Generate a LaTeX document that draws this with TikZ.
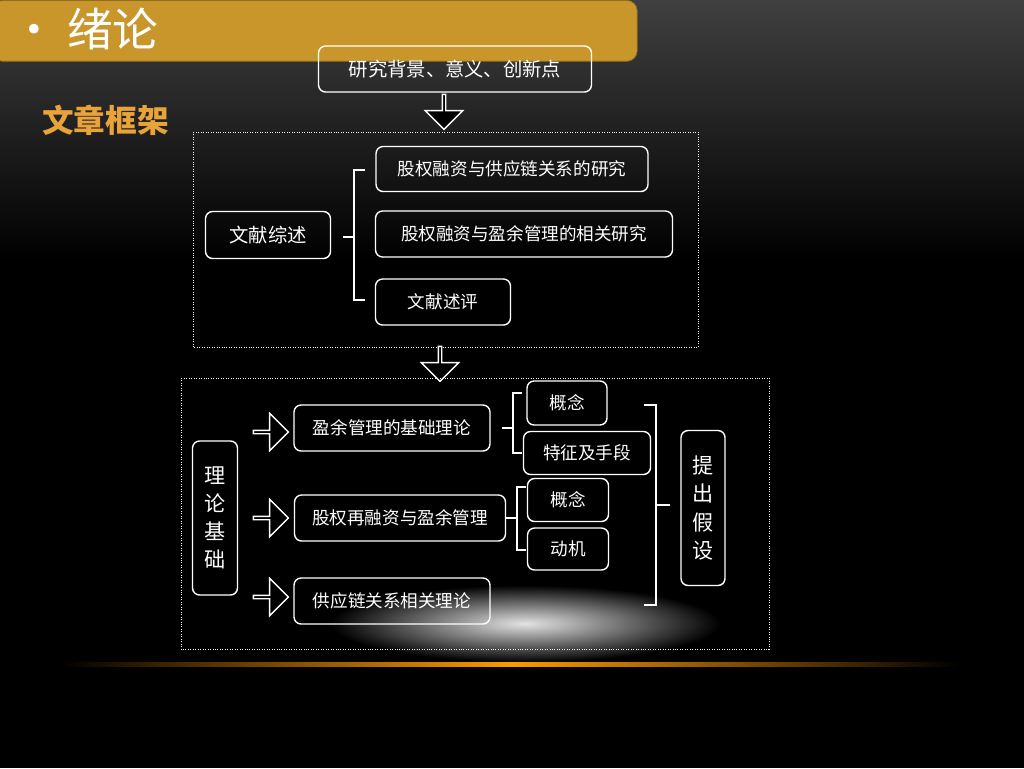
\documentclass[tikz,border=0pt]{standalone}
\usepackage{fontspec}
\setmainfont{Noto Sans CJK SC}
\usetikzlibrary{shapes.arrows,calc}
\definecolor{gold}{HTML}{C8962A}
\definecolor{ttl}{HTML}{E8A33A}
\begin{document}
\begin{tikzpicture}[x=0.02cm,y=-0.02cm,
 bx/.style={draw=white,rounded corners=4pt,thick,text=white,font=\fontsize{10}{12}\selectfont,inner sep=0pt},
 harr/.style={draw=white,fill=black,thick,single arrow,single arrow head extend=4pt,minimum height=0.7cm,minimum width=0.75cm,inner sep=0pt},
 dbox/.style={draw=white,densely dotted}]
\useasboundingbox (0,0) rectangle (1024,768);
\fill[black] (0,0) rectangle (1024,768);
\fill[top color=black!75!white,bottom color=black] (0,0) rectangle (1024,260);
\fill[black] (0,260) rectangle (1024,768);
\shade[inner color=gray!22,outer color=black] (330,585) rectangle (720,662);
\shade[left color=black,right color=orange!80!yellow] (60,662) rectangle (512,666);
\shade[right color=black,left color=orange!80!yellow] (512,662) rectangle (960,666);
\node[draw=gold!70!black,fill=gold,rounded corners=6pt,minimum width=12.9cm,minimum height=1.22cm,anchor=north west] (bar) at (-8,0) {};
\node[text=white,font=\fontsize{26}{30}\selectfont,anchor=west] (t) at (5,29) {• 绪论};
\node[text=ttl,font=\fontsize{18}{20}\selectfont\bfseries,anchor=west] (ft) at (36,120) {文章框架};
\node[bx,minimum width=5.46cm,minimum height=0.92cm,font=\fontsize{11}{12}\selectfont] (bg) at (455,69) {研究背景、意义、创新点};
\node[harr,shape border rotate=270] (a1) at (444,111) {};
\draw[dbox] (193,132) rectangle (698,347);
\node[bx,minimum width=2.5cm,minimum height=0.94cm,font=\fontsize{11}{14}\selectfont] (ws) at (268,235) {文献综述};
\node[bx,minimum width=5.44cm,minimum height=0.9cm] (b1) at (512,169) {股权融资与供应链关系的研究};
\node[bx,minimum width=5.94cm,minimum height=0.92cm] (b2) at (524,234) {股权融资与盈余管理的相关研究};
\node[bx,minimum width=2.7cm,minimum height=0.92cm] (b3) at (443,302) {文献述评};
\draw[white,thick] (365,170) -- (354,170) -- (354,300) -- (365,300) (354,237) -- (343,237);
\node[harr,shape border rotate=270] (a2) at (440,363) {};
\draw[dbox] (181,378) rectangle (769,649);
\node[bx,minimum width=0.9cm,minimum height=3.08cm,align=center,font=\fontsize{12}{16}\selectfont] (ll) at (215,518) {理\\论\\基\\础};
\node[harr] (r1) at (270,432) {};
\node[bx,minimum width=3.92cm,minimum height=0.92cm] (c1) at (392,428) {盈余管理的基础理论};
\node[harr] (r2) at (270,518) {};
\node[bx,minimum width=4.22cm,minimum height=0.92cm] (c2) at (400,518) {股权再融资与盈余管理};
\node[harr] (r3) at (270,597) {};
\node[bx,minimum width=3.92cm,minimum height=0.92cm] (c3) at (392,601) {供应链关系相关理论};
\node[bx,minimum width=1.6cm,minimum height=0.88cm] (d1) at (567,403) {概念};
\node[bx,minimum width=2.54cm,minimum height=0.86cm] (d2) at (587,453) {特征及手段};
\node[bx,minimum width=1.62cm,minimum height=0.86cm] (d3) at (568,500) {概念};
\node[bx,minimum width=1.62cm,minimum height=0.84cm] (d4) at (568,549) {动机};
\draw[white,thick] (522,393) -- (513,393) -- (513,453) -- (522,453) (513,428) -- (502,428);
\draw[white,thick] (526,487) -- (517,487) -- (517,550) -- (526,550) (517,518) -- (506,518);
\draw[white,thick] (644,405) -- (656,405) -- (656,605) -- (644,605) (656,505) -- (670,505);
\node[bx,minimum width=0.88cm,minimum height=3.1cm,align=center,font=\fontsize{12}{16}\selectfont] (tc) at (703,508) {提\\出\\假\\设};
\end{tikzpicture}
\end{document}
